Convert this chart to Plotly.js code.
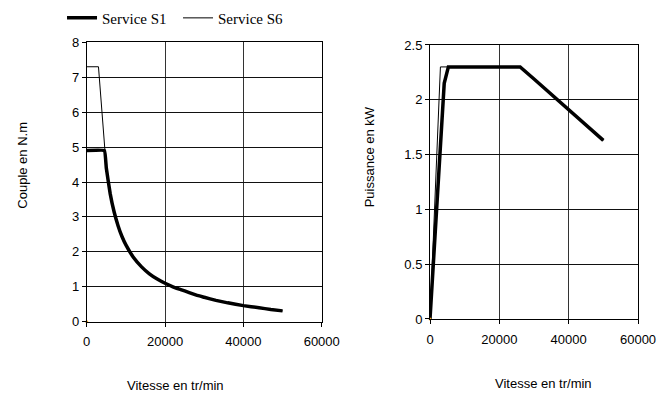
<!DOCTYPE html>
<html>
<head>
<meta charset="utf-8">
<script src="https://cdn.plot.ly/plotly-3.0.1.min.js"></script>
<style>html,body{margin:0;padding:0;background:#fff;}#chart{width:657px;height:394px;}</style>
</head>
<body>
<div id="chart"></div>
<script>
// Couple (torque) vs speed
var speedS1Torque = [0, 4500, 5000, 6000, 7000, 8000, 9000, 10000, 12000, 14000, 16000, 18000, 20000, 22000, 24000, 26000, 28000, 30000, 33000, 36000, 40000, 44000, 47000, 50000];
var torqueS1 = [4.9, 4.9, 4.4, 3.66, 3.14, 2.75, 2.44, 2.2, 1.83, 1.57, 1.37, 1.22, 1.1, 1.0, 0.92, 0.84, 0.76, 0.70, 0.61, 0.54, 0.46, 0.40, 0.35, 0.31];
var speedS6Torque = [0, 3000, 5000, 6000, 7000, 8000, 9000, 10000, 12000, 14000, 16000, 18000, 20000, 22000, 24000, 26000, 28000, 30000, 33000, 36000, 40000, 44000, 47000, 50000];
var torqueS6 = [7.3, 7.3, 4.4, 3.66, 3.14, 2.75, 2.44, 2.2, 1.83, 1.57, 1.37, 1.22, 1.1, 1.0, 0.92, 0.84, 0.76, 0.70, 0.61, 0.54, 0.46, 0.40, 0.35, 0.31];

// Puissance (power) vs speed
var speedS1Power = [0, 4100, 5300, 10000, 15000, 20000, 26000, 30000, 35000, 40000, 45000, 50000];
var powerS1 = [0, 2.15, 2.3, 2.3, 2.3, 2.3, 2.3, 2.19, 2.05, 1.91, 1.77, 1.63];
var speedS6Power = [0, 3000, 5300, 10000, 15000, 20000, 26000, 30000, 35000, 40000, 45000, 50000];
var powerS6 = [0, 2.3, 2.3, 2.3, 2.3, 2.3, 2.3, 2.19, 2.05, 1.91, 1.77, 1.63];

var originX = [0];
var originY = [0];

var seriesNames = ['Service S1', 'Service S6'];
var xTicks = [0, 20000, 40000, 60000];
var torqueTicks = [0, 1, 2, 3, 4, 5, 6, 7, 8];
var powerTicks = [0, 0.5, 1, 1.5, 2, 2.5];

var sans = 'Liberation Sans, Arial, sans-serif';
var serif = 'Liberation Serif, Times New Roman, serif';

var traces = [
  {x: speedS6Torque, y: torqueS6, xaxis: 'x', yaxis: 'y', mode: 'lines', name: seriesNames[1],
   line: {color: '#000', width: 1}, showlegend: false, legendrank: 2},
  {x: speedS1Torque, y: torqueS1, xaxis: 'x', yaxis: 'y', mode: 'lines', name: seriesNames[0],
   line: {color: '#000', width: 3.5, shape: 'spline', smoothing: 0.3}, showlegend: true, legendrank: 1},
  {x: speedS6Power, y: powerS6, xaxis: 'x2', yaxis: 'y2', mode: 'lines', name: seriesNames[1],
   line: {color: '#000', width: 1}, showlegend: true, legendrank: 2},
  {x: speedS1Power, y: powerS1, xaxis: 'x2', yaxis: 'y2', mode: 'lines', name: seriesNames[0],
   line: {color: '#000', width: 3.5}, showlegend: false, legendrank: 1},
  {x: originX, y: originY, xaxis: 'x', yaxis: 'y', mode: 'markers', showlegend: false,
   marker: {color: '#f5a623', size: 3}, cliponaxis: false, hoverinfo: 'skip'},
  {x: originX, y: originY, xaxis: 'x2', yaxis: 'y2', mode: 'markers', showlegend: false,
   marker: {color: '#f5a623', size: 3}, cliponaxis: false, hoverinfo: 'skip'}
];

function xAxis(domain, anchor) {
  return {domain: domain, anchor: anchor, range: [0, 60000], tickvals: xTicks, ticktext: xTicks.map(String),
    showgrid: true, gridcolor: '#333', gridwidth: 1, zeroline: false,
    showline: true, linecolor: '#000', linewidth: 1, mirror: true,
    ticks: 'outside', ticklen: 4, tickcolor: '#000', ticklabelstandoff: 4,
    tickfont: {family: sans, size: 13, color: '#000'}, fixedrange: true};
}
function yAxis(domain, anchor, range, ticks) {
  return {domain: domain, anchor: anchor, range: range, tickvals: ticks, ticktext: ticks.map(String),
    showgrid: true, gridcolor: '#111', gridwidth: 1, zeroline: false,
    showline: true, linecolor: '#000', linewidth: 1, mirror: true,
    ticks: 'outside', ticklen: 4, tickcolor: '#000',
    tickfont: {family: sans, size: 13, color: '#000'}, fixedrange: true};
}

var layout = {
  width: 657, height: 394,
  margin: {l: 0, r: 0, t: 0, b: 0, pad: 0, autoexpand: false},
  paper_bgcolor: '#fff', plot_bgcolor: '#fff',
  xaxis: xAxis([0.132, 0.4897], 'y'),
  yaxis: yAxis([0.1835, 0.8926], 'x', [0, 8], torqueTicks),
  xaxis2: xAxis([0.6545, 0.9711], 'y2'),
  yaxis2: yAxis([0.1904, 0.8858], 'x2', [0, 2.5], powerTicks),
  showlegend: true,
  legend: {orientation: 'h', x: 0.0944, xanchor: 'left', y: 0.954, yanchor: 'middle',
    font: {family: serif, size: 15, color: '#000'}, bgcolor: 'rgba(0,0,0,0)',
    traceorder: 'normal', entrywidth: 71, itemclick: false, itemdoubleclick: false},
  annotations: [
    {text: 'Couple en N.m', xref: 'paper', yref: 'paper', x: 21.7/657, y: (394-165)/394, textangle: -90,
     showarrow: false, xanchor: 'center', yanchor: 'middle', font: {family: sans, size: 13, color: '#000'}},
    {text: 'Vitesse en tr/min', xref: 'paper', yref: 'paper', x: 175/657, y: (394-385)/394,
     showarrow: false, xanchor: 'center', yanchor: 'middle', font: {family: sans, size: 13, color: '#000'}},
    {text: 'Puissance en kW', xref: 'paper', yref: 'paper', x: 369.3/657, y: (394-157)/394, textangle: -90,
     showarrow: false, xanchor: 'center', yanchor: 'middle', font: {family: sans, size: 13, color: '#000'}},
    {text: 'Vitesse en tr/min', xref: 'paper', yref: 'paper', x: 543/657, y: (394-383)/394,
     showarrow: false, xanchor: 'center', yanchor: 'middle', font: {family: sans, size: 13, color: '#000'}}
  ]
};

Plotly.newPlot('chart', traces, layout, {staticPlot: true, displayModeBar: false});
</script>
</body>
</html>
